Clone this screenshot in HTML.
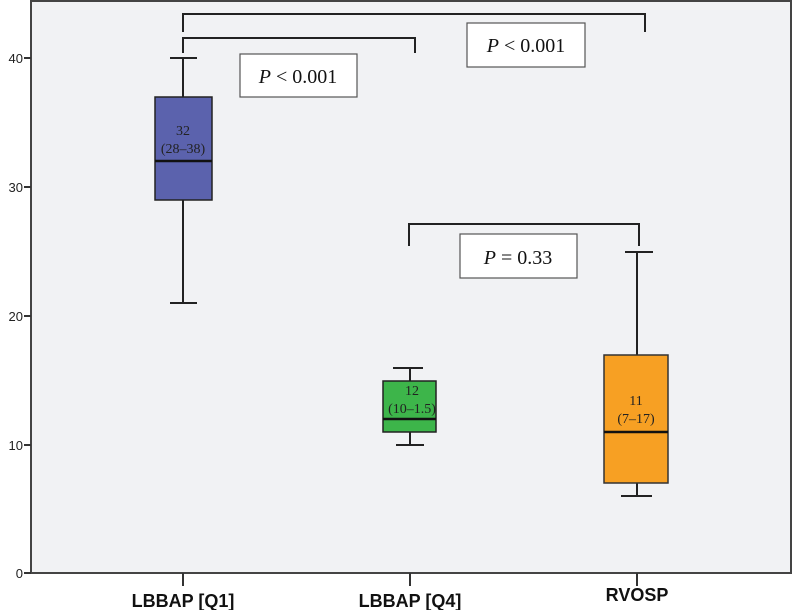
<!DOCTYPE html>
<html><head><meta charset="utf-8"><style>
html,body{margin:0;padding:0;background:#fff;}
</style></head><body>
<svg width="793" height="610" viewBox="0 0 793 610" xmlns="http://www.w3.org/2000/svg">
<rect x="31" y="1" width="760" height="572" fill="#f1f2f4" stroke="#444" stroke-width="2"/>
<g stroke="#333" stroke-width="2">
<line x1="24" y1="58" x2="31" y2="58"/><line x1="24" y1="187" x2="31" y2="187"/>
<line x1="24" y1="316" x2="31" y2="316"/><line x1="24" y1="445" x2="31" y2="445"/>
<line x1="24" y1="573" x2="31" y2="573"/>
<line x1="183" y1="573" x2="183" y2="586"/><line x1="410" y1="573" x2="410" y2="586"/><line x1="637" y1="573" x2="637" y2="586"/>
</g>
<g font-family="Liberation Sans, sans-serif" font-size="13" fill="#222" text-anchor="end">
<text x="23" y="63">40</text><text x="23" y="192">30</text><text x="23" y="321">20</text><text x="23" y="450">10</text><text x="23" y="578">0</text>
</g>
<g font-family="Liberation Sans, sans-serif" font-size="18" font-weight="bold" fill="#111" text-anchor="middle">
<text x="183" y="607">LBBAP [Q1]</text><text x="410" y="607">LBBAP [Q4]</text><text x="637" y="601">RVOSP</text>
</g>
<g stroke="#222" stroke-width="2" fill="none">
<line x1="183" y1="58" x2="183" y2="303"/><line x1="170" y1="58" x2="197" y2="58"/><line x1="170" y1="303" x2="197" y2="303"/>
<line x1="637" y1="252" x2="637" y2="496"/><line x1="625" y1="252" x2="653" y2="252"/><line x1="621" y1="496" x2="652" y2="496"/>
<line x1="410" y1="368" x2="410" y2="445"/><line x1="393" y1="368" x2="423" y2="368"/><line x1="396" y1="445" x2="424" y2="445"/>
</g>
<rect x="155" y="97" width="57" height="103" fill="#5b62ad" stroke="#222" stroke-width="1.5"/>
<line x1="155" y1="161" x2="212" y2="161" stroke="#111" stroke-width="2.5"/>
<rect x="383" y="381" width="53" height="51" fill="#3db54a" stroke="#222" stroke-width="1.5"/>
<line x1="383" y1="419" x2="436" y2="419" stroke="#111" stroke-width="2.5"/>
<rect x="604" y="355" width="64" height="128" fill="#f7a023" stroke="#333" stroke-width="1.5"/>
<line x1="604" y1="432" x2="668" y2="432" stroke="#111" stroke-width="2.5"/>
<g font-family="Liberation Serif, serif" font-size="14" fill="#222" text-anchor="middle">
<text x="183" y="135">32</text><text x="183" y="153">(28–38)</text>
<text x="412" y="395">12</text><text x="412" y="413">(10–1.5)</text>
<text x="636" y="405">11</text><text x="636" y="423">(7–17)</text>
</g>
<g stroke="#222" stroke-width="2" fill="none">
<polyline points="183,32 183,14 645,14 645,32"/>
<polyline points="183,53 183,38 415,38 415,53"/>
<polyline points="409,246 409,224 639,224 639,246"/>
</g>
<g fill="#fff" stroke="#555" stroke-width="1.2">
<rect x="240" y="54" width="117" height="43"/>
<rect x="467" y="23" width="118" height="44"/>
<rect x="460" y="234" width="117" height="44"/>
</g>
<g font-family="Liberation Serif, serif" font-size="20" fill="#111" text-anchor="middle">
<text x="298" y="83"><tspan font-style="italic">P</tspan> &lt; 0.001</text>
<text x="526" y="52"><tspan font-style="italic">P</tspan> &lt; 0.001</text>
<text x="518" y="264"><tspan font-style="italic">P</tspan> = 0.33</text>
</g>
</svg>
</body></html>
